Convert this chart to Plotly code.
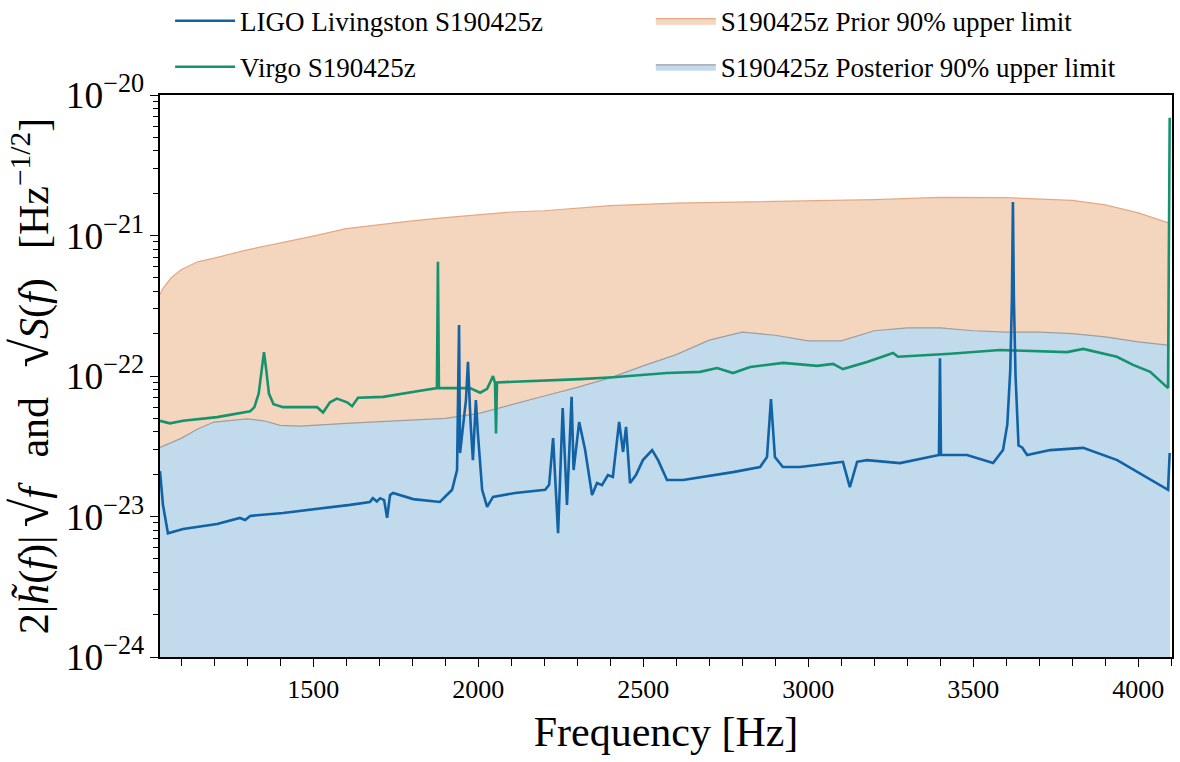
import plotly.graph_objects as go

# ---------------- data ----------------
prior_freq = [1036, 1045, 1070, 1100, 1150, 1200, 1300, 1400, 1500, 1600, 1700, 1800,
              1900, 2000, 2100, 2200, 2400, 2600, 2800, 3000, 3200, 3400, 3600, 3800,
              3900, 4000, 4096]
prior_ul = [3.8e-22, 4.2e-22, 5.0e-22, 5.7e-22, 6.5e-22, 6.9e-22, 7.9e-22, 8.8e-22,
            9.9e-22, 1.12e-21, 1.20e-21, 1.27e-21, 1.34e-21, 1.41e-21, 1.47e-21, 1.50e-21,
            1.63e-21, 1.70e-21, 1.73e-21, 1.76e-21, 1.80e-21, 1.87e-21, 1.86e-21, 1.78e-21,
            1.65e-21, 1.45e-21, 1.22e-21]

post_freq = [1036, 1100, 1150, 1200, 1300, 1350, 1400, 1460, 1600, 1800, 1900, 2000,
             2100, 2200, 2300, 2400, 2500, 2600, 2700, 2800, 2900, 3000, 3100, 3200,
             3300, 3400, 3500, 3600, 3700, 3800, 3900, 4000, 4096]
post_ul = [3.1e-23, 3.6e-23, 4.2e-23, 4.7e-23, 4.95e-23, 4.8e-23, 4.45e-23, 4.4e-23,
           4.6e-23, 4.85e-23, 5.0e-23, 5.4e-23, 6.2e-23, 7.2e-23, 8.3e-23, 9.7e-23,
           1.18e-22, 1.42e-22, 1.8e-22, 2.05e-22, 1.95e-22, 1.78e-22, 1.78e-22, 2.1e-22,
           2.2e-22, 2.2e-22, 2.1e-22, 2.05e-22, 2.05e-22, 2.0e-22, 1.9e-22, 1.75e-22,
           1.65e-22]

virgo_freq = [1036, 1066, 1106, 1209, 1309, 1322, 1335, 1343, 1351, 1358, 1366, 1380,
              1409, 1512, 1530, 1551, 1572, 1603, 1618, 1636, 1712, 1815, 1875, 1878,
              1881, 1975, 2006, 2027, 2045, 2051, 2054, 2057, 2118, 2218, 2309, 2409,
              2490, 2572, 2672, 2724, 2772, 2824, 2924, 3027, 3075, 3105, 3178, 3257,
              3272, 3430, 3581, 3784, 3833, 3935, 3984, 4036, 4090, 4095]
virgo_asd = [4.8e-23, 4.6e-23, 4.8e-23, 5.1e-23, 5.6e-23, 6.0e-23, 7.5e-23, 1.1e-22,
             1.48e-22, 1.1e-22, 7.5e-23, 6.3e-23, 6.0e-23, 6.0e-23, 5.5e-23, 6.5e-23,
             6.9e-23, 6.5e-23, 6.1e-23, 7.0e-23, 7.1e-23, 7.8e-23, 8.2e-23, 6.5e-22,
             8.2e-23, 8.2e-23, 7.6e-23, 8.1e-23, 1.0e-22, 8.9e-23, 3.9e-23, 9.0e-23,
             9.1e-23, 9.3e-23, 9.5e-23, 9.8e-23, 1.01e-22, 1.05e-22, 1.07e-22, 1.14e-22,
             1.05e-22, 1.16e-22, 1.24e-22, 1.18e-22, 1.22e-22, 1.12e-22, 1.26e-22, 1.46e-22,
             1.37e-22, 1.44e-22, 1.53e-22, 1.48e-22, 1.56e-22, 1.37e-22, 1.20e-22, 1.07e-22,
             8.2e-23, 6.9e-21]

ligo_freq = [1036, 1045, 1060, 1106, 1209, 1278, 1294, 1309, 1409, 1512, 1612, 1672,
             1681, 1693, 1703, 1715, 1724, 1733, 1742, 1803, 1884, 1921, 1936, 1942,
             1945, 1963, 1969, 1977, 1984, 1993, 1999, 2012, 2027, 2045, 2112, 2203,
             2215, 2227, 2242, 2256, 2269, 2283, 2289, 2306, 2324, 2345, 2360, 2375,
             2393, 2408, 2427, 2439, 2448, 2460, 2478, 2499, 2527, 2545, 2572, 2621,
             2772, 2854, 2875, 2887, 2899, 2923, 2975, 3075, 3105, 3126, 3148, 3178,
             3278, 3396, 3399, 3402, 3481, 3560, 3590, 3603, 3612, 3617, 3620, 3623,
             3628, 3637, 3648, 3663, 3733, 3833, 3936, 4090, 4095]
ligo_asd = [2.1e-23, 1.21e-23, 7.6e-24, 8.15e-24, 8.85e-24, 9.76e-24, 9.44e-24, 1.01e-23,
            1.06e-23, 1.13e-23, 1.21e-23, 1.27e-23, 1.35e-23, 1.28e-23, 1.35e-23, 1.31e-23,
            9.8e-24, 1.42e-23, 1.47e-23, 1.33e-23, 1.27e-23, 1.55e-23, 2.14e-23, 2.31e-22,
            2.83e-23, 6.75e-23, 1.26e-22, 4.62e-23, 2.52e-23, 6.75e-23, 3.93e-23, 1.55e-23,
            1.17e-23, 1.38e-23, 1.47e-23, 1.55e-23, 1.68e-23, 3.62e-23, 7.6e-24, 5.91e-23,
            1.21e-23, 7.1e-23, 2.14e-23, 4.71e-23, 2.97e-23, 1.42e-23, 1.73e-23, 1.67e-23,
            1.97e-23, 1.91e-23, 4.71e-23, 2.88e-23, 4.34e-23, 1.73e-23, 1.97e-23, 2.52e-23,
            2.97e-23, 2.52e-23, 1.82e-23, 1.82e-23, 2.07e-23, 2.25e-23, 2.65e-23, 6.86e-23,
            2.65e-23, 2.25e-23, 2.25e-23, 2.40e-23, 2.45e-23, 1.62e-23, 2.45e-23, 2.52e-23,
            2.40e-23, 2.74e-23, 1.34e-22, 2.74e-23, 2.74e-23, 2.40e-23, 2.97e-23, 4.5e-23,
            1.1e-22, 3.5e-22, 1.73e-21, 3.5e-22, 1.0e-22, 3.2e-23, 3.1e-23, 2.74e-23,
            2.97e-23, 3.08e-23, 2.52e-23, 1.55e-23, 2.83e-23]

fill_floor = 1e-26          # baseline for the filled regions (below the axis)
x_range = [1036, 4102]
y_decades = [-24, -20]

assert len(prior_freq) == len(prior_ul)
assert len(post_freq) == len(post_ul)
assert len(virgo_freq) == len(virgo_asd)
assert len(ligo_freq) == len(ligo_asd)

# ---------------- styling ----------------
FONT = "'Liberation Serif', 'Times New Roman', Times, serif"
C_LIGO = "#1262a6"
C_VIRGO = "#15936e"
C_PRIOR_FILL = "#f4d5bd"
C_PRIOR_EDGE = "#e6a883"
C_POST_FILL = "#c1dbec"
C_POST_EDGE = "#9c9ea0"

fig = go.Figure()

fig.add_trace(go.Scatter(x=[prior_freq[0], prior_freq[-1]], y=[fill_floor, fill_floor],
                         mode="lines", line=dict(width=0), showlegend=False,
                         hoverinfo="skip"))
fig.add_trace(go.Scatter(x=prior_freq, y=prior_ul, mode="lines", fill="tonexty",
                         fillcolor=C_PRIOR_FILL, line=dict(color=C_PRIOR_EDGE, width=1.2),
                         name="S190425z Prior 90% upper limit", legend="legend2",
                         legendgroup="p1", legendrank=1))
fig.add_trace(go.Scatter(x=[post_freq[0], post_freq[-1]], y=[fill_floor, fill_floor],
                         mode="lines", line=dict(width=0), showlegend=False,
                         hoverinfo="skip"))
fig.add_trace(go.Scatter(x=post_freq, y=post_ul, mode="lines", fill="tonexty",
                         fillcolor=C_POST_FILL, line=dict(color=C_POST_EDGE, width=1.2),
                         name="S190425z Posterior 90% upper limit", legend="legend2",
                         legendgroup="p2", legendrank=2))
fig.add_trace(go.Scatter(x=virgo_freq, y=virgo_asd, mode="lines",
                         line=dict(color=C_VIRGO, width=2.6),
                         name="Virgo S190425z", legend="legend",
                         legendgroup="d2", legendrank=2))
fig.add_trace(go.Scatter(x=ligo_freq, y=ligo_asd, mode="lines",
                         line=dict(color=C_LIGO, width=2.6),
                         name="LIGO Livingston S190425z", legend="legend",
                         legendgroup="d1", legendrank=1))

SP = "\u2002\u2009"
RAD = "<span style='font-size:52px'>√</span>"
ytitle = ("2|<i>h̃</i>(<i>f</i>)|\u2009" + RAD + "<i>f</i>" + SP + "and" + SP +
          RAD + "<i>S</i>(<i>f</i>)" + SP + "[Hz<sup>−1/2</sup>]")

fig.update_layout(
    width=1180, height=762,
    margin=dict(l=160, r=8, t=95, b=105, autoexpand=False),
    paper_bgcolor="white", plot_bgcolor="white",
    font=dict(family=FONT, color="black", size=24),
    legend=dict(x=0.01, y=1.175, xanchor="left", yanchor="top", traceorder="grouped",
                bgcolor="rgba(0,0,0,0)", font=dict(size=27, family=FONT, color="black"),
                itemwidth=60, tracegroupgap=8),
    legend2=dict(x=0.485, y=1.175, xanchor="left", yanchor="top", traceorder="grouped",
                 bgcolor="rgba(0,0,0,0)", font=dict(size=27, family=FONT, color="black"),
                 itemwidth=60, tracegroupgap=8),
    xaxis=dict(range=x_range, showgrid=False, zeroline=False,
               showline=True, linecolor="black", linewidth=1.5, mirror=True,
               ticks="outside", ticklen=8, tickwidth=1.3, tickcolor="black",
               dtick=500, tick0=1500,
               minor=dict(dtick=100, tick0=1000, ticks="outside", ticklen=7,
                          tickwidth=1.1, tickcolor="black", showgrid=False),
               tickfont=dict(size=26, family=FONT, color="black"),
               title=dict(text="Frequency [Hz]",
                          font=dict(size=42, family=FONT, color="black"),
                          standoff=14)),
    yaxis=dict(type="log", range=y_decades, showgrid=False, zeroline=False,
               showline=True, linecolor="black", linewidth=1.5, mirror=True,
               ticks="outside", ticklen=8, tickwidth=1.3, tickcolor="black",
               dtick=1, exponentformat="power",
               minor=dict(dtick="D1", ticks="outside", ticklen=5, tickwidth=1,
                          tickcolor="black", showgrid=False),
               tickfont=dict(size=30, family=FONT, color="black"),
               title=dict(text=ytitle, font=dict(size=42, family=FONT, color="black"),
                          standoff=4)),
)

fig.write_html("out.html")
